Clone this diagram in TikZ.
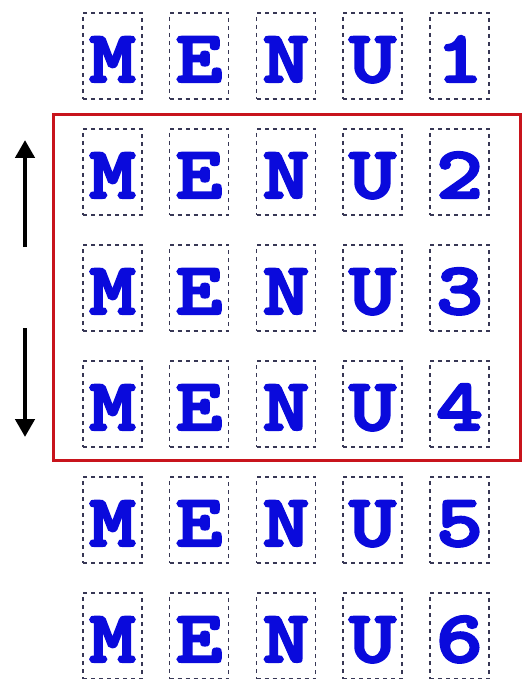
\documentclass[tikz,border=0pt]{standalone}
\usepackage{fontspec}
\usepackage{graphicx}
\usetikzlibrary{arrows.meta}
\newfontfamily\menufont{lmmonolt10-bold.otf}[FakeBold=3]
\definecolor{letterblue}{RGB}{10,10,220}
\definecolor{dashgray}{RGB}{55,55,85}
\definecolor{framered}{RGB}{200,20,28}
\newcommand{\wide}[1]{\scalebox{1.2}[1]{#1}}
\tikzset{
  cell/.style={draw=dashgray, line width=1.1pt, dash pattern=on 4pt off 4pt,
    minimum width=59pt, minimum height=86pt, inner sep=0pt,
    text height=60pt, text depth=8pt, text=letterblue,
    font=\menufont\fontsize{74}{74}\selectfont},
  frame/.style={draw=framered, line width=3pt},
  move/.style={line width=4.5pt, -{Triangle[width=19pt,length=18pt]}}
}
\begin{document}
\begin{tikzpicture}[x=1pt,y=1pt]
\useasboundingbox (0,0) rectangle (525,-679);
\foreach \r/\d in {1/1,2/2,3/3,4/4,5/5,6/6}{
  \pgfmathsetmacro{\cy}{-(56+116*(\r-1))}
  \node[cell] (m\r) at (112.5,\cy) {\wide{M}};
  \node[cell] (e\r) at (199,\cy) {\wide{E}};
  \node[cell] (n\r) at (286,\cy) {\wide{N}};
  \node[cell] (u\r) at (372.5,\cy) {\wide{U}};
  \node[cell] (d\r) at (459.5,\cy) {\wide{\d}};
}
\draw[frame] (53.5,-114.5) rectangle (520.5,-460.5);
\coordinate (upS) at (25,-247);
\coordinate (upE) at (25,-140);
\coordinate (dnS) at (25,-328);
\coordinate (dnE) at (25,-437);
\draw[move] (upS) -- (upE);
\draw[move] (dnS) -- (dnE);
\end{tikzpicture}
\end{document}
